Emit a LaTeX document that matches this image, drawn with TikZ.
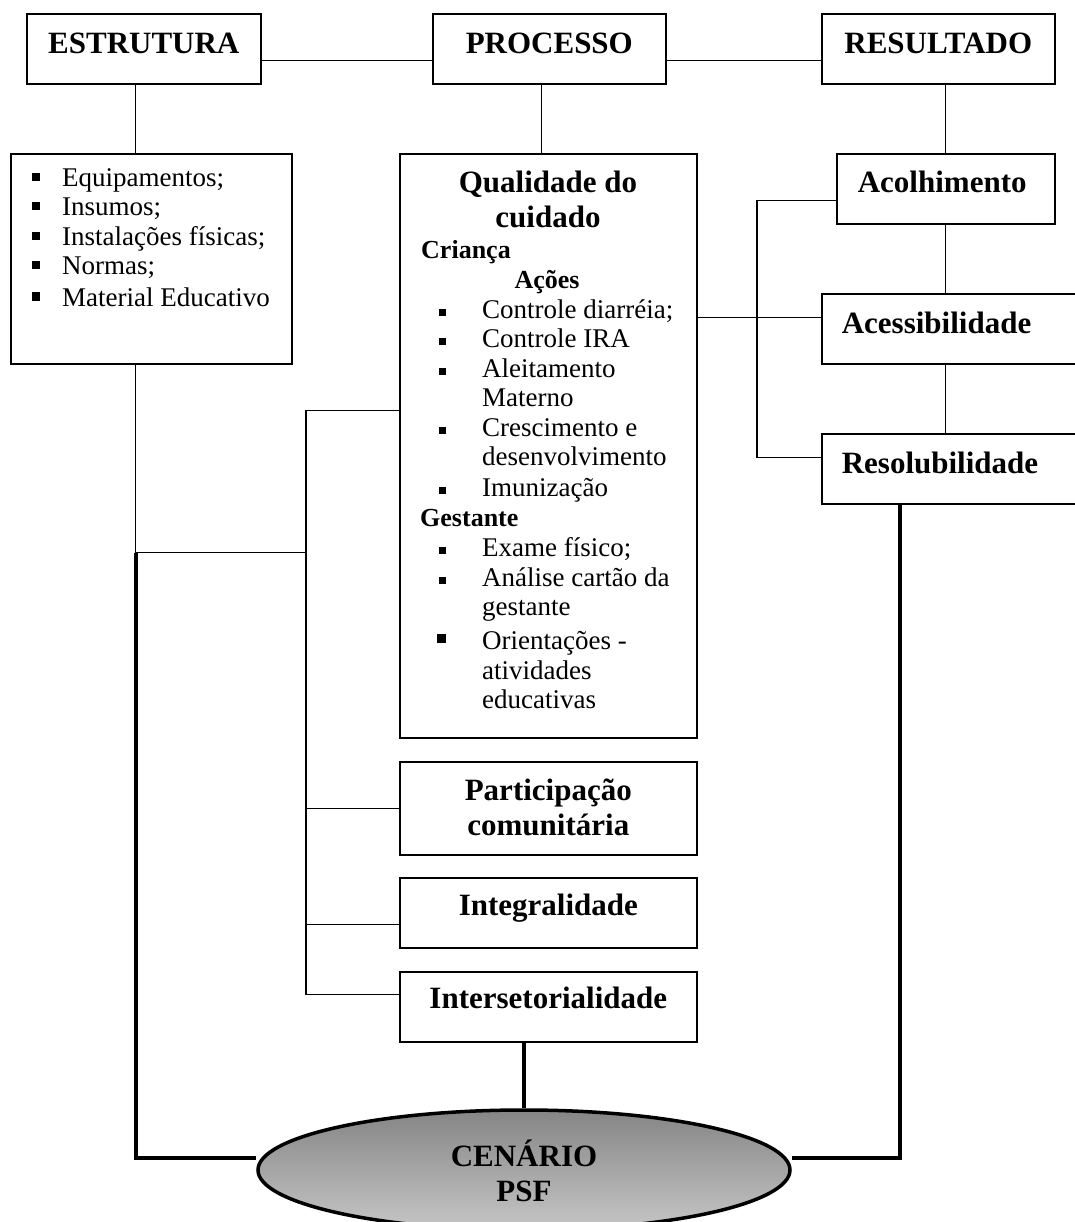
\documentclass[tikz,border=0pt]{standalone}
\usepackage{fontspec}
\setmainfont{Liberation Serif}
\usetikzlibrary{shapes.geometric}

\definecolor{cenTop}{RGB}{133,133,133}
\definecolor{cenBot}{RGB}{198,198,198}

\newcommand{\headfont}{\bfseries\fontsize{31}{35}\selectfont}
\newcommand{\subfont}{\bfseries\fontsize{26}{29}\selectfont}
\newcommand{\listfont}{\fontsize{27}{29}\selectfont}

\tikzset{
  headbox/.style={draw, line width=1.6pt, inner xsep=0pt, inner ysep=0pt,
    text height=40pt, text depth=30pt, font=\headfont, align=center, anchor=north west},
  listbox/.style={draw, line width=1.6pt, inner sep=0pt, anchor=north west},
  txt/.style={inner sep=0pt, anchor=base west, font=\listfont},
  link/.style={line width=1.3pt},
  heavy/.style={line width=3.5pt},
  scen/.style={ellipse, draw, line width=3.5pt, minimum width=532pt, minimum height=120pt,
    inner sep=0pt, top color=cenTop, bottom color=cenBot, font=\headfont, align=center,
    text height=62pt, text depth=0pt},
}

\begin{document}
\begin{tikzpicture}[x=1pt, y=-1pt]
\useasboundingbox (0,0) rectangle (1074,1222);

% top row
\node[headbox, minimum width=234pt] (est) at (26,13) {ESTRUTURA};
\node[headbox, minimum width=233pt] (proc) at (432,13) {PROCESSO};
\node[headbox, minimum width=233pt] (res) at (821,13) {RESULTADO};

% estrutura
\node[listbox, minimum width=281pt, minimum height=210pt] (estlist) at (10,153) {};
\foreach \y/\t [count=\i] in {187/{Equipamentos;}, 216/{Insumos;}, 246/{Instalações físicas;},
    275/{Normas;}, 306/{Material Educativo}}
{
  \fill (32,\y-13.5) rectangle ++(8,8);
  \node[txt] (el\i) at (62,\y) {\t};
}

% processo
\node[listbox, minimum width=297pt, minimum height=584pt] (qual) at (399,153) {};
\node[inner sep=0pt, anchor=base, font=\headfont, align=center] (qtit) at (548,228) {Qualidade do\\cuidado};
\node[inner sep=0pt, anchor=base west, font=\subfont] (crian) at (421,259) {Criança};
\node[inner sep=0pt, anchor=base, font=\subfont] (acoes) at (547,288) {Ações};
\node[inner sep=0pt, anchor=base west, font=\subfont] (gest) at (420,526) {Gestante};
\foreach \y/\t [count=\i] in {318/{Controle diarréia;}, 347/{Controle IRA}, 377/Aleitamento,
    406/Materno, 436/{Crescimento e}, 465/desenvolvimento, 496/Imunização, 556/{Exame físico;},
    586/{Análise cartão da}, 615/gestante, 649/{Orientações -}, 679/atividades, 708/educativas}
  \node[txt] (ql\i) at (482,\y) {\t};
\foreach \y in {318,347,377,436,496,556,586}
  \fill (438.5,\y-9.5) rectangle ++(7,7);
\fill (437,634) rectangle ++(9,9);

\node[headbox, minimum width=297pt, text height=74pt, text depth=19pt] (partic) at (399,761) {Participação\\comunitária};
\node[headbox, minimum width=297pt, text height=38pt, text depth=32pt] (integ) at (399,877) {Integralidade};
\node[headbox, minimum width=297pt, text height=37pt, text depth=33pt] (inters) at (399,971) {Intersetorialidade};

% resultado
\node[headbox, text width=176pt, align=left, inner xsep=21pt, text height=39pt, text depth=31pt] (acol) at (836,153) {Acolhimento};
\node[headbox, text width=250pt, align=left, inner xsep=20pt] (acess) at (821,293) {Acessibilidade};
\node[headbox, text width=250pt, align=left, inner xsep=20pt] (resol) at (821,433) {Resolubilidade};

% cenario
\node[scen] (cen) at (524,1170) {CENÁRIO\\PSF};

% ligacoes
\draw[link] ([yshift=-12pt]est.east) -- ([yshift=-12pt]proc.west);
\draw[link] ([yshift=-12pt]proc.east) -- ([yshift=-12pt]res.west);
\draw[link] ([xshift=-8pt]est.south) -- ([xshift=-8pt]est.south |- estlist.north);
\draw[link] ([xshift=-8pt]est.south |- estlist.south) -- ++(0,188) coordinate (js) -- ++(171,0);
\draw[link] ([xshift=-8pt]proc.south) -- ([xshift=-8pt]proc.south |- qual.north);
\draw[link] ([yshift=35pt]qual.west) -| ([xshift=-93pt,yshift=12pt]inters.west) -- ([yshift=12pt]inters.west);
\draw[link] (partic.west) -- ++(-93,0);
\draw[link] ([yshift=-12pt]integ.west) -- ++(-93,0);
\draw[link] (acol.north) -- (acol.north |- res.south);
\draw[link] (acol.south) -- (acol.south |- acess.north);
\draw[link] (acol.south |- acess.south) -- (acol.south |- resol.north);
\draw[link] ([yshift=11pt]acess.west) -- ([yshift=11pt]acess.west -| qual.east);
\draw[link] ([yshift=-12pt]acol.west) -- ++(-79,0) |- ([yshift=11pt]resol.west);

\draw[heavy] (js) |- ([yshift=12pt]cen.west);
\draw[heavy] ([xshift=-67pt]resol.south) |- ([yshift=12pt]cen.east);
\draw[heavy] (cen.north) -- (cen.north |- inters.south);
\end{tikzpicture}
\end{document}
